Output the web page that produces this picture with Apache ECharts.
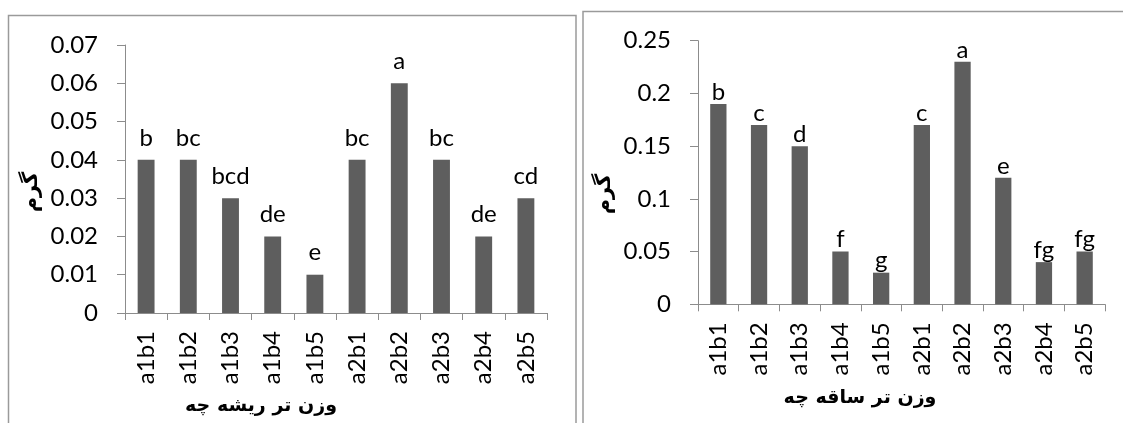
<!DOCTYPE html>
<html>
<head>
<meta charset="utf-8">
<script src="https://cdn.jsdelivr.net/npm/echarts@6/dist/echarts.min.js"></script>
<style>
  html, body { margin: 0; padding: 0; background: #fff; }
  #main { width: 1123px; height: 423px; }
</style>
</head>
<body>
<div id="main"></div>
<script>
var categories = ['a1b1', 'a1b2', 'a1b3', 'a1b4', 'a1b5', 'a2b1', 'a2b2', 'a2b3', 'a2b4', 'a2b5'];

// وزن تر ریشه چه
var rootWeight = [0.04, 0.04, 0.03, 0.02, 0.01, 0.04, 0.06, 0.04, 0.02, 0.03];
var rootLetters = ['b', 'bc', 'bcd', 'de', 'e', 'bc', 'a', 'bc', 'de', 'cd'];

// وزن تر ساقه چه
var shootWeight = [0.19, 0.17, 0.15, 0.05, 0.03, 0.17, 0.23, 0.12, 0.04, 0.05];
var shootLetters = ['b', 'c', 'd', 'f', 'g', 'c', 'a', 'e', 'fg', 'fg'];

var latin = 'Lato, "Open Sans", sans-serif';
var arabic = '"DejaVu Sans", "Noto Sans", sans-serif';
var axisGray = '#8c8c8c';
var barGray = '#5e5e5e';

var chartDom = document.getElementById('main');
var myChart = echarts.init(chartDom);
var option;

function xAxisFor(gridIndex) {
  return {
    type: 'category',
    gridIndex: gridIndex,
    data: categories,
    axisLine: { lineStyle: { color: axisGray, width: 1 } },
    axisTick: { show: true, length: 7, lineStyle: { color: axisGray } },
    axisLabel: { rotate: 90, margin: 18, color: '#000', fontSize: 24, fontFamily: latin }
  };
}

function yAxisFor(gridIndex, max, step) {
  return {
    type: 'value',
    gridIndex: gridIndex,
    min: 0,
    max: max,
    interval: step,
    splitLine: { show: false },
    axisLine: { show: true, lineStyle: { color: axisGray, width: 1 } },
    axisTick: { show: true, length: 8, lineStyle: { color: axisGray } },
    axisLabel: { margin: 27, color: '#000', fontSize: 24, fontFamily: latin }
  };
}

function barSeries(index, values, letters, gap) {
  return {
    type: 'bar',
    xAxisIndex: index,
    yAxisIndex: index,
    data: values,
    barWidth: '40%',
    itemStyle: { color: barGray },
    label: {
      show: true,
      position: 'top',
      distance: gap,
      color: '#000',
      fontSize: 24,
      fontFamily: latin,
      formatter: function (p) { return letters[p.dataIndex]; }
    }
  };
}

option = {
  animation: false,
  backgroundColor: '#fff',
  grid: [
    { left: 125, right: 576, top: 45, bottom: 110 },
    { left: 698, right: 18, top: 40.7, bottom: 118.7 }
  ],
  xAxis: [xAxisFor(0), xAxisFor(1)],
  yAxis: [yAxisFor(0, 0.07, 0.01), yAxisFor(1, 0.25, 0.05)],
  series: [
    barSeries(0, rootWeight, rootLetters, 10),
    barSeries(1, shootWeight, shootLetters, 0)
  ],
  graphic: [
    // chart frames
    { type: 'rect', shape: { x: 8.5, y: 15.5, width: 567.5, height: 430 },
      style: { fill: 'none', stroke: '#9a9a9a', lineWidth: 1.5 } },
    { type: 'rect', shape: { x: 583, y: 11.5, width: 560, height: 430 },
      style: { fill: 'none', stroke: '#9a9a9a', lineWidth: 1.5 } },
    // axis titles
    { type: 'text', x: 261, y: 406,
      style: { text: 'وزن تر ریشه چه', font: 'bold 19px ' + arabic, fill: '#000',
               textAlign: 'center', textVerticalAlign: 'middle' } },
    { type: 'text', x: 860, y: 398,
      style: { text: 'وزن تر ساقه چه', font: 'bold 19px ' + arabic, fill: '#000',
               textAlign: 'center', textVerticalAlign: 'middle' } },
    { type: 'text', x: 32, y: 192, rotation: Math.PI / 2,
      style: { text: 'گرم', font: 'bold 21px ' + arabic, fill: '#000',
               textAlign: 'center', textVerticalAlign: 'middle' } },
    { type: 'text', x: 605, y: 194, rotation: Math.PI / 2,
      style: { text: 'گرم', font: 'bold 21px ' + arabic, fill: '#000',
               textAlign: 'center', textVerticalAlign: 'middle' } }
  ]
};

option && myChart.setOption(option);
</script>
</body>
</html>
